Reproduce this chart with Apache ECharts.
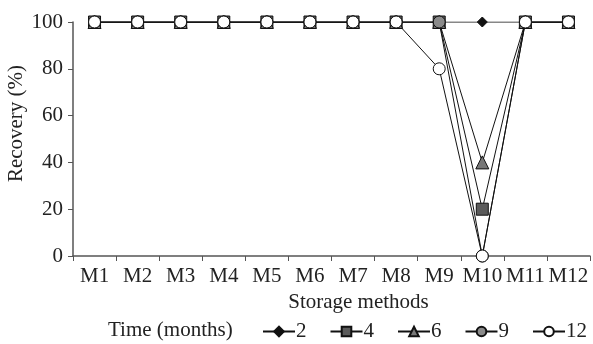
<!DOCTYPE html>
<html>
<head>
<meta charset="utf-8">
<script src="https://cdn.jsdelivr.net/npm/echarts@6/dist/echarts.min.js"></script>
<style>
  html, body { margin: 0; padding: 0; background: #fff; }
  #chart { width: 593px; height: 344px; }
</style>
</head>
<body>
<div id="chart"></div>
<script>
// categories and values
const methods = ['M1', 'M2', 'M3', 'M4', 'M5', 'M6', 'M7', 'M8', 'M9', 'M10', 'M11', 'M12'];
const yTicks = [0, 20, 40, 60, 80, 100];
const m2 = [100, 100, 100, 100, 100, 100, 100, 100, 100, 100, 100, 100];
const m4 = [100, 100, 100, 100, 100, 100, 100, 100, 100, 20, 100, 100];
const m6 = [100, 100, 100, 100, 100, 100, 100, 100, 100, 40, 100, 100];
const m9 = [100, 100, 100, 100, 100, 100, 100, 100, 100, 0, 100, 100];
const m12 = [100, 100, 100, 100, 100, 100, 100, 100, 80, 0, 100, 100];

const font = 'Liberation Serif';
const fs = 21;
const axisColor = '#555';

const chart = echarts.init(document.getElementById('chart'));

function mkSeries(name, data, symbol, size, fill) {
    return {
        name: name,
        type: 'line',
        data: data,
        symbol: symbol,
        symbolSize: size,
        showAllSymbol: true,
        animation: false,
        lineStyle: { color: '#111', width: 1 },
        itemStyle: { color: fill, borderColor: '#111', borderWidth: 1 }
    };
}

chart.setOption({
    animation: false,
    textStyle: { fontFamily: font },
    grid: { left: 73, right: 3, top: 22, bottom: 88, containLabel: false, outerBoundsMode: 'none' },
    graphic: [{
        type: 'text',
        left: 108,
        top: 320,
        style: { text: 'Time (months)', fontFamily: font, fontSize: fs, fill: '#222' }
    }],
    legend: {
        left: 257,
        top: 316,
        itemWidth: 32,
        itemHeight: 12,
        itemGap: 23,
        textStyle: { fontFamily: font, fontSize: fs, color: '#222', padding: [0, 0, 0, -4] },
        data: ['2', '4', '6', '9', '12']
    },
    xAxis: {
        type: 'category',
        data: methods,
        boundaryGap: true,
        name: 'Storage methods',
        nameLocation: 'middle',
        nameGap: 36,
        nameTextStyle: { fontFamily: font, fontSize: fs, color: '#222', padding: [0, 0, 0, 54] },
        axisLine: { lineStyle: { color: axisColor, width: 1.5 } },
        axisTick: { show: true, length: 5, lineStyle: { color: axisColor } },
        axisLabel: { fontFamily: font, fontSize: fs, color: '#222', margin: 10, interval: 0 },
        splitLine: { show: false }
    },
    yAxis: {
        type: 'value',
        min: 0,
        max: 100,
        interval: yTicks[1] - yTicks[0],
        name: 'Recovery (%)',
        nameLocation: 'middle',
        nameGap: 46,
        nameMoveOverlap: false,
        nameTextStyle: { fontFamily: font, fontSize: fs, color: '#222', padding: [0, 0, 0, 31] },
        axisLine: { show: true, lineStyle: { color: axisColor, width: 1.5 } },
        axisTick: { show: true, length: 5, lineStyle: { color: axisColor } },
        axisLabel: { fontFamily: font, fontSize: fs, color: '#222', margin: 10 },
        splitLine: { show: false }
    },
    series: [
        mkSeries('2', m2, 'diamond', 10, '#111'),
        mkSeries('4', m4, 'rect', 12, '#5a5a5a'),
        mkSeries('6', m6, 'triangle', 13, '#777'),
        mkSeries('9', m9, 'circle', 12, '#8a8a8a'),
        mkSeries('12', m12, 'circle', 12, '#fff')
    ]
});
</script>
</body>
</html>
